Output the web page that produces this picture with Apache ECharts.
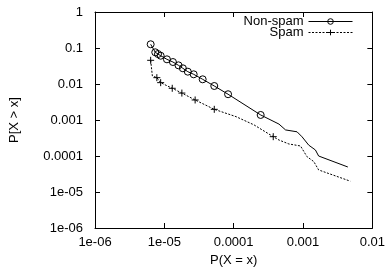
<!DOCTYPE html>
<html>
<head>
<meta charset="utf-8">
<script src="https://cdn.jsdelivr.net/npm/echarts@6/dist/echarts.min.js"></script>
<style>
  html, body { margin: 0; padding: 0; background: #fff; }
  #chart { width: 388px; height: 273px; }
</style>
</head>
<body>
<div id="chart"></div>
<script>
// values (log-log CCDF)
const seriesNames = ['Non-spam', 'Spam']

const nonSpamX = [6.35e-6, 7.4e-6, 8.1e-6, 8.85e-6, 1.09e-5, 1.33e-5, 1.6e-5, 1.85e-5, 2.18e-5, 2.65e-5,
  3.57e-5, 5.25e-5, 8.3e-5, 2.45e-4, 4.5e-4, 5.6e-4, 8.2e-4, 9.7e-4, 1.21e-3, 1.51e-3, 1.68e-3, 4.43e-3]
const nonSpamY = [0.127, 0.076, 0.068, 0.061, 0.0485, 0.0408, 0.033, 0.0273, 0.022, 0.0186,
  0.0135, 0.0088, 0.0052, 0.00138, 7.7e-4, 5.3e-4, 4.7e-4, 3.4e-4, 2.0e-4, 1.47e-4, 1.0e-4, 4.95e-5]
const nonSpamMarked = [0, 1, 2, 3, 4, 5, 6, 7, 8, 9, 10, 11, 12, 13]

const spamX = [6.35e-6, 6.72e-6, 7.8e-6, 8.85e-6, 1.3e-5, 1.79e-5, 2.78e-5, 5.25e-5, 1.08e-4, 1.97e-4,
  3.72e-4, 4.5e-4, 6.25e-4, 9.2e-4, 1.14e-3, 1.43e-3, 1.68e-3, 4.8e-3]
const spamY = [0.0455, 0.0167, 0.015, 0.0109, 0.0076, 0.0056, 0.0036, 0.00198, 1.24e-3, 7.3e-4,
  3.44e-4, 2.78e-4, 2.16e-4, 1.9e-4, 9.6e-5, 7.0e-5, 4.1e-5, 2.0e-5]
const spamMarked = [0, 2, 3, 4, 5, 6, 7, 10]

const xTickLabels = ['1e-06', '1e-05', '0.0001', '0.001', '0.01']
const yTickLabels = ['1e-06', '1e-05', '0.0001', '0.001', '0.01', '0.1', '1']

const FONT = 'Liberation Sans'
const plusPath = 'path://M0,5L10,5M5,0L5,10'

const buildData = (xs, ys, marked) =>
  xs.map((x, i) => marked.includes(i) ? [x, ys[i]] : { value: [x, ys[i]], symbol: 'none' })

const tickLabel = (labels) => (v) => labels[Math.round(Math.log10(v)) + 6] || ''

const chart = echarts.init(document.getElementById('chart'), null, { renderer: 'canvas' })

const frameAxis = (extra) => Object.assign({
  type: 'log',
  logBase: 10,
  axisLine: { show: true, onZero: false, lineStyle: { color: '#000', width: 1 } },
  axisTick: { show: true, inside: true, length: 5, lineStyle: { color: '#000', width: 1 } },
  splitLine: { show: false },
  axisLabel: { show: false }
}, extra)

const option = {
  animation: false,
  backgroundColor: '#fff',
  grid: { left: 95, right: 14, top: 12, bottom: 45, containLabel: false },
  legend: {
    orient: 'vertical',
    right: 30,
    top: 10,
    align: 'right',
    itemWidth: 44,
    itemHeight: 7,
    itemGap: -2,
    selectedMode: false,
    lineStyle: { width: 1 },
    itemStyle: { borderWidth: 1 },
    textStyle: { fontSize: 13, lineHeight: 12, color: '#000', fontFamily: FONT },
    data: seriesNames
  },
  xAxis: [
    frameAxis({
      min: 1e-6, max: 0.01, position: 'bottom',
      name: 'P(X = x)', nameLocation: 'middle', nameGap: 24,
      nameTextStyle: { fontSize: 13, color: '#000', fontFamily: FONT },
      axisLabel: { show: true, margin: 8, color: '#000', fontSize: 13, fontFamily: FONT, formatter: tickLabel(xTickLabels) }
    }),
    frameAxis({ min: 1e-6, max: 0.01, position: 'top' })
  ],
  yAxis: [
    frameAxis({
      min: 1e-6, max: 1, position: 'left',
      name: 'P[X > x]', nameLocation: 'middle', nameGap: 74,
      nameTextStyle: { fontSize: 13, color: '#000', fontFamily: FONT },
      axisLabel: { show: true, margin: 12, color: '#000', fontSize: 13, fontFamily: FONT, formatter: tickLabel(yTickLabels) }
    }),
    frameAxis({ min: 1e-6, max: 1, position: 'right' })
  ],
  series: [
    {
      name: seriesNames[0],
      type: 'line',
      xAxisIndex: 0,
      yAxisIndex: 0,
      data: buildData(nonSpamX, nonSpamY, nonSpamMarked),
      symbol: 'circle',
      symbolSize: 7,
      lineStyle: { color: '#000', width: 1 },
      itemStyle: { color: 'rgba(255,255,255,0)', borderColor: '#000', borderWidth: 1 },
      emphasis: { disabled: true },
      silent: true
    },
    {
      name: seriesNames[1],
      type: 'line',
      xAxisIndex: 0,
      yAxisIndex: 0,
      data: buildData(spamX, spamY, spamMarked),
      symbol: plusPath,
      symbolSize: 7,
      lineStyle: { color: '#000', width: 1, type: [2, 1.5] },
      itemStyle: { color: '#000', borderColor: '#000', borderWidth: 1 },
      emphasis: { disabled: true },
      silent: true
    }
  ]
}

chart.setOption(option)

window.addEventListener('resize', () => {
  chart && chart.resize()
})
</script>
</body>
</html>
